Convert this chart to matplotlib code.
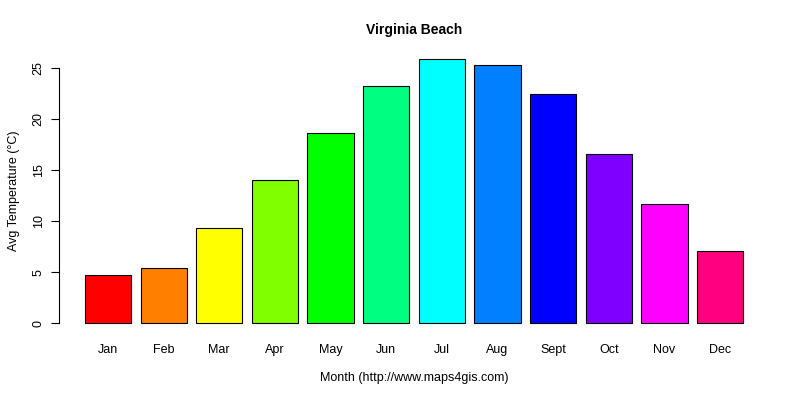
import matplotlib
matplotlib.use("Agg")
import matplotlib.pyplot as plt

months = ["Jan","Feb","Mar","Apr","May","Jun","Jul","Aug","Sept","Oct","Nov","Dec"]
temps = [4.7, 5.4, 9.3, 14.0, 18.6, 23.2, 25.9, 25.3, 22.4, 16.6, 11.7, 7.1]
colors = ["#FF0000","#FF8000","#FFFF00","#80FF00","#00FF00","#00FF80",
          "#00FFFF","#0080FF","#0000FF","#8000FF","#FF00FF","#FF0080"]
yticks = [0, 5, 10, 15, 20, 25]

plt.rcParams['font.family'] = ['Liberation Sans', 'DejaVu Sans']
fig = plt.figure(figsize=(8, 4), dpi=100)
ax = fig.add_axes([58.5/800, 66/400, (769.6-58.5)/800, (334-48)/400])
x = list(range(len(months)))
ax.bar(x, temps, width=0.83, color=colors, edgecolor="black", linewidth=0.8)
ax.set_xlim(-0.89, 11.89)
ax.set_ylim(-1.04, 26.94)
for s in ["top", "right", "bottom"]:
    ax.spines[s].set_visible(False)
ax.spines["left"].set_bounds(0, 25)
ax.set_yticks(yticks)
ax.set_yticklabels([str(v) for v in yticks], rotation=90, va="center", fontsize=9)
ax.set_xticks(x)
ax.set_xticklabels(months, fontsize=9)
ax.tick_params(axis="x", length=0, pad=7)
ax.tick_params(axis="y", length=6, pad=4)
ax.set_xlabel("Month (http://www.maps4gis.com)", fontsize=9, labelpad=12)
ax.set_ylabel("Avg Temperature (°C)", fontsize=9, labelpad=9)
ax.set_title("Virginia Beach", fontsize=10, fontweight="bold", pad=10)
fig.savefig("out.png", dpi=100)
